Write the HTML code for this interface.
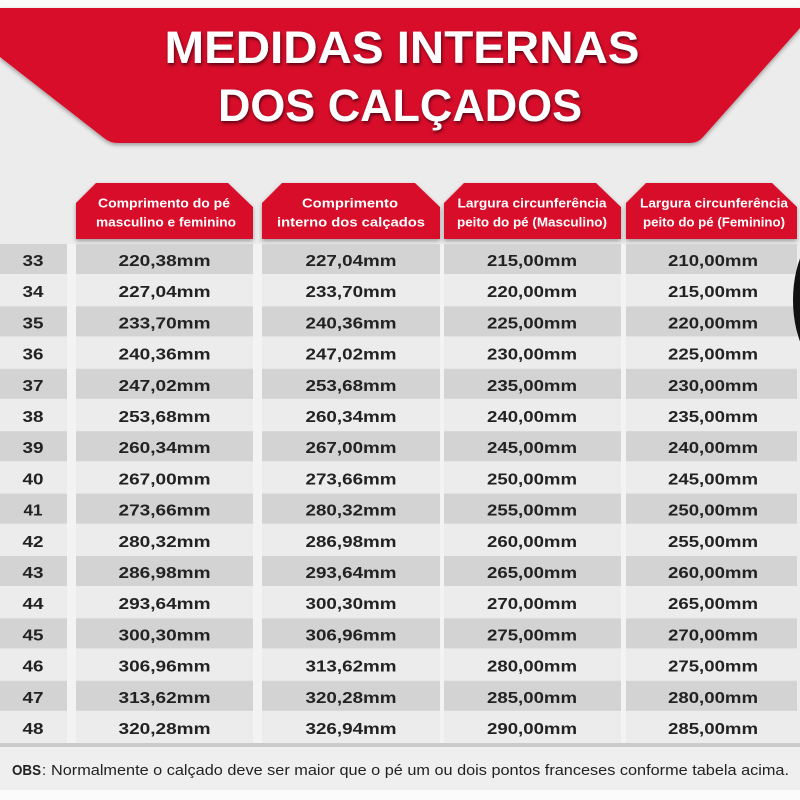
<!DOCTYPE html>
<html>
<head>
<meta charset="utf-8">
<style>
  html,body{margin:0;padding:0;background:#ececec;}
  svg{display:block;}
  .t{font-family:"Liberation Sans",sans-serif;}
  .title{font-weight:bold;font-size:45px;fill:#fff;}
  .hd{font-weight:bold;font-size:12.5px;fill:#fff;}
  .v{font-weight:bold;font-size:16px;fill:#222;}
</style>
</head>
<body>
<svg width="800" height="800" viewBox="0 0 800 800" xmlns="http://www.w3.org/2000/svg">
  <defs>
    <filter id="sh" x="-10%" y="-10%" width="120%" height="130%">
      <feDropShadow dx="0" dy="2" stdDeviation="2" flood-color="#000" flood-opacity="0.35"/>
    </filter>
    <filter id="tsh" x="-10%" y="-20%" width="120%" height="150%">
      <feDropShadow dx="1" dy="2" stdDeviation="1.5" flood-color="#3a0008" flood-opacity="0.8"/>
    </filter>
  </defs>
  <!-- background -->
  <rect x="0" y="0" width="800" height="800" fill="#ececec"/>
  <rect x="0" y="0" width="800" height="8" fill="#fafafa"/>
  <rect x="0" y="790" width="800" height="10" fill="#fbfbfb"/>

  <!-- banner -->
  <path d="M0,8 H800 V28 L703,137 Q698,143 690,143 H118 Q110,143 104,138 L0,57 Z" fill="#d8102b" filter="url(#sh)"/>
  <g filter="url(#tsh)">
    <text class="t title" x="402" y="63" text-anchor="middle" textLength="475" lengthAdjust="spacingAndGlyphs">MEDIDAS INTERNAS</text>
    <text class="t title" x="400" y="121" text-anchor="middle" textLength="364" lengthAdjust="spacingAndGlyphs">DOS CALÇADOS</text>
  </g>

  <!-- column gap stripes -->
  <g fill="#f3f3f3">
    <rect x="67" y="244" width="9" height="499"/>
    <rect x="253" y="244" width="9" height="499"/>
    <rect x="440" y="244" width="4" height="499"/>
    <rect x="621" y="244" width="5" height="499"/>
  </g>

  <!-- header tabs -->
  <g fill="#d8102b" filter="url(#sh)">
    <polygon points="76,239 76,203 96,183 228,183 253,207 253,239"/>
    <polygon points="262,239 262,203 282,183 415,183 440,207 440,239"/>
    <polygon points="444,239 444,203 464,183 596,183 621,207 621,239"/>
    <polygon points="626,239 626,203 646,183 772,183 797,207 797,239"/>
  </g>
  <g class="t hd" text-anchor="middle">
    <text class="hd" x="164" y="207.5" textLength="132" lengthAdjust="spacingAndGlyphs">Comprimento do pé</text>
    <text class="hd" x="166" y="226.5" textLength="140" lengthAdjust="spacingAndGlyphs">masculino e feminino</text>
    <text class="hd" x="350" y="207.5" textLength="96" lengthAdjust="spacingAndGlyphs">Comprimento</text>
    <text class="hd" x="351" y="226.5" textLength="148" lengthAdjust="spacingAndGlyphs">interno dos calçados</text>
    <text class="hd" x="532" y="207.5" textLength="149" lengthAdjust="spacingAndGlyphs">Largura circunferência</text>
    <text class="hd" x="532" y="226.5" textLength="150" lengthAdjust="spacingAndGlyphs">peito do pé (Masculino)</text>
    <text class="hd" x="714" y="207.5" textLength="148" lengthAdjust="spacingAndGlyphs">Largura circunferência</text>
    <text class="hd" x="714" y="226.5" textLength="142" lengthAdjust="spacingAndGlyphs">peito do pé (Feminino)</text>
  </g>

  <!-- gray row bars (odd sizes) -->
  <g fill="#d3d3d3">
    <rect x="0" y="244" width="67" height="30"/><rect x="76" y="244" width="177" height="30"/><rect x="262" y="244" width="178" height="30"/><rect x="444" y="244" width="177" height="30"/><rect x="626" y="244" width="171" height="30"/>
    <rect x="0" y="306.4" width="67" height="30"/><rect x="76" y="306.4" width="177" height="30"/><rect x="262" y="306.4" width="178" height="30"/><rect x="444" y="306.4" width="177" height="30"/><rect x="626" y="306.4" width="171" height="30"/>
    <rect x="0" y="368.8" width="67" height="30"/><rect x="76" y="368.8" width="177" height="30"/><rect x="262" y="368.8" width="178" height="30"/><rect x="444" y="368.8" width="177" height="30"/><rect x="626" y="368.8" width="171" height="30"/>
    <rect x="0" y="431.2" width="67" height="30"/><rect x="76" y="431.2" width="177" height="30"/><rect x="262" y="431.2" width="178" height="30"/><rect x="444" y="431.2" width="177" height="30"/><rect x="626" y="431.2" width="171" height="30"/>
    <rect x="0" y="493.6" width="67" height="30"/><rect x="76" y="493.6" width="177" height="30"/><rect x="262" y="493.6" width="178" height="30"/><rect x="444" y="493.6" width="177" height="30"/><rect x="626" y="493.6" width="171" height="30"/>
    <rect x="0" y="556" width="67" height="30"/><rect x="76" y="556" width="177" height="30"/><rect x="262" y="556" width="178" height="30"/><rect x="444" y="556" width="177" height="30"/><rect x="626" y="556" width="171" height="30"/>
    <rect x="0" y="618.4" width="67" height="30"/><rect x="76" y="618.4" width="177" height="30"/><rect x="262" y="618.4" width="178" height="30"/><rect x="444" y="618.4" width="177" height="30"/><rect x="626" y="618.4" width="171" height="30"/>
    <rect x="0" y="680.8" width="67" height="30"/><rect x="76" y="680.8" width="177" height="30"/><rect x="262" y="680.8" width="178" height="30"/><rect x="444" y="680.8" width="177" height="30"/><rect x="626" y="680.8" width="171" height="30"/>
  </g>

  <!-- separator -->
  <rect x="0" y="743" width="800" height="4" fill="#cbcbcb"/>
  <rect x="0" y="747" width="800" height="43" fill="#efefef"/>

  <!-- black shape at right -->
  <ellipse cx="835" cy="300" rx="42" ry="75" fill="#111"/>

  <!-- values -->
  <g class="t v" text-anchor="middle">
    <text class="v" x="33" y="266" textLength="21" lengthAdjust="spacingAndGlyphs">33</text>
    <text class="v" x="164.5" y="266" textLength="92" lengthAdjust="spacingAndGlyphs">220,38mm</text>
    <text class="v" x="351" y="266" textLength="91" lengthAdjust="spacingAndGlyphs">227,04mm</text>
    <text class="v" x="532" y="266" textLength="90" lengthAdjust="spacingAndGlyphs">215,00mm</text>
    <text class="v" x="713" y="266" textLength="90" lengthAdjust="spacingAndGlyphs">210,00mm</text>

    <text class="v" x="33" y="297.2" textLength="21" lengthAdjust="spacingAndGlyphs">34</text>
    <text class="v" x="164.5" y="297.2" textLength="92" lengthAdjust="spacingAndGlyphs">227,04mm</text>
    <text class="v" x="351" y="297.2" textLength="91" lengthAdjust="spacingAndGlyphs">233,70mm</text>
    <text class="v" x="532" y="297.2" textLength="90" lengthAdjust="spacingAndGlyphs">220,00mm</text>
    <text class="v" x="713" y="297.2" textLength="90" lengthAdjust="spacingAndGlyphs">215,00mm</text>

    <text class="v" x="33" y="328.4" textLength="21" lengthAdjust="spacingAndGlyphs">35</text>
    <text class="v" x="164.5" y="328.4" textLength="92" lengthAdjust="spacingAndGlyphs">233,70mm</text>
    <text class="v" x="351" y="328.4" textLength="91" lengthAdjust="spacingAndGlyphs">240,36mm</text>
    <text class="v" x="532" y="328.4" textLength="90" lengthAdjust="spacingAndGlyphs">225,00mm</text>
    <text class="v" x="713" y="328.4" textLength="90" lengthAdjust="spacingAndGlyphs">220,00mm</text>

    <text class="v" x="33" y="359.6" textLength="21" lengthAdjust="spacingAndGlyphs">36</text>
    <text class="v" x="164.5" y="359.6" textLength="92" lengthAdjust="spacingAndGlyphs">240,36mm</text>
    <text class="v" x="351" y="359.6" textLength="91" lengthAdjust="spacingAndGlyphs">247,02mm</text>
    <text class="v" x="532" y="359.6" textLength="90" lengthAdjust="spacingAndGlyphs">230,00mm</text>
    <text class="v" x="713" y="359.6" textLength="90" lengthAdjust="spacingAndGlyphs">225,00mm</text>

    <text class="v" x="33" y="390.8" textLength="21" lengthAdjust="spacingAndGlyphs">37</text>
    <text class="v" x="164.5" y="390.8" textLength="92" lengthAdjust="spacingAndGlyphs">247,02mm</text>
    <text class="v" x="351" y="390.8" textLength="91" lengthAdjust="spacingAndGlyphs">253,68mm</text>
    <text class="v" x="532" y="390.8" textLength="90" lengthAdjust="spacingAndGlyphs">235,00mm</text>
    <text class="v" x="713" y="390.8" textLength="90" lengthAdjust="spacingAndGlyphs">230,00mm</text>

    <text class="v" x="33" y="422" textLength="21" lengthAdjust="spacingAndGlyphs">38</text>
    <text class="v" x="164.5" y="422" textLength="92" lengthAdjust="spacingAndGlyphs">253,68mm</text>
    <text class="v" x="351" y="422" textLength="91" lengthAdjust="spacingAndGlyphs">260,34mm</text>
    <text class="v" x="532" y="422" textLength="90" lengthAdjust="spacingAndGlyphs">240,00mm</text>
    <text class="v" x="713" y="422" textLength="90" lengthAdjust="spacingAndGlyphs">235,00mm</text>

    <text class="v" x="33" y="453.2" textLength="21" lengthAdjust="spacingAndGlyphs">39</text>
    <text class="v" x="164.5" y="453.2" textLength="92" lengthAdjust="spacingAndGlyphs">260,34mm</text>
    <text class="v" x="351" y="453.2" textLength="91" lengthAdjust="spacingAndGlyphs">267,00mm</text>
    <text class="v" x="532" y="453.2" textLength="90" lengthAdjust="spacingAndGlyphs">245,00mm</text>
    <text class="v" x="713" y="453.2" textLength="90" lengthAdjust="spacingAndGlyphs">240,00mm</text>

    <text class="v" x="33" y="484.4" textLength="21" lengthAdjust="spacingAndGlyphs">40</text>
    <text class="v" x="164.5" y="484.4" textLength="92" lengthAdjust="spacingAndGlyphs">267,00mm</text>
    <text class="v" x="351" y="484.4" textLength="91" lengthAdjust="spacingAndGlyphs">273,66mm</text>
    <text class="v" x="532" y="484.4" textLength="90" lengthAdjust="spacingAndGlyphs">250,00mm</text>
    <text class="v" x="713" y="484.4" textLength="90" lengthAdjust="spacingAndGlyphs">245,00mm</text>

    <text class="v" x="33" y="515.6" textLength="19" lengthAdjust="spacingAndGlyphs">41</text>
    <text class="v" x="164.5" y="515.6" textLength="92" lengthAdjust="spacingAndGlyphs">273,66mm</text>
    <text class="v" x="351" y="515.6" textLength="91" lengthAdjust="spacingAndGlyphs">280,32mm</text>
    <text class="v" x="532" y="515.6" textLength="90" lengthAdjust="spacingAndGlyphs">255,00mm</text>
    <text class="v" x="713" y="515.6" textLength="90" lengthAdjust="spacingAndGlyphs">250,00mm</text>

    <text class="v" x="33" y="546.8" textLength="21" lengthAdjust="spacingAndGlyphs">42</text>
    <text class="v" x="164.5" y="546.8" textLength="92" lengthAdjust="spacingAndGlyphs">280,32mm</text>
    <text class="v" x="351" y="546.8" textLength="91" lengthAdjust="spacingAndGlyphs">286,98mm</text>
    <text class="v" x="532" y="546.8" textLength="90" lengthAdjust="spacingAndGlyphs">260,00mm</text>
    <text class="v" x="713" y="546.8" textLength="90" lengthAdjust="spacingAndGlyphs">255,00mm</text>

    <text class="v" x="33" y="578" textLength="21" lengthAdjust="spacingAndGlyphs">43</text>
    <text class="v" x="164.5" y="578" textLength="92" lengthAdjust="spacingAndGlyphs">286,98mm</text>
    <text class="v" x="351" y="578" textLength="91" lengthAdjust="spacingAndGlyphs">293,64mm</text>
    <text class="v" x="532" y="578" textLength="90" lengthAdjust="spacingAndGlyphs">265,00mm</text>
    <text class="v" x="713" y="578" textLength="90" lengthAdjust="spacingAndGlyphs">260,00mm</text>

    <text class="v" x="33" y="609.2" textLength="21" lengthAdjust="spacingAndGlyphs">44</text>
    <text class="v" x="164.5" y="609.2" textLength="92" lengthAdjust="spacingAndGlyphs">293,64mm</text>
    <text class="v" x="351" y="609.2" textLength="91" lengthAdjust="spacingAndGlyphs">300,30mm</text>
    <text class="v" x="532" y="609.2" textLength="90" lengthAdjust="spacingAndGlyphs">270,00mm</text>
    <text class="v" x="713" y="609.2" textLength="90" lengthAdjust="spacingAndGlyphs">265,00mm</text>

    <text class="v" x="33" y="640.4" textLength="21" lengthAdjust="spacingAndGlyphs">45</text>
    <text class="v" x="164.5" y="640.4" textLength="92" lengthAdjust="spacingAndGlyphs">300,30mm</text>
    <text class="v" x="351" y="640.4" textLength="91" lengthAdjust="spacingAndGlyphs">306,96mm</text>
    <text class="v" x="532" y="640.4" textLength="90" lengthAdjust="spacingAndGlyphs">275,00mm</text>
    <text class="v" x="713" y="640.4" textLength="90" lengthAdjust="spacingAndGlyphs">270,00mm</text>

    <text class="v" x="33" y="671.6" textLength="21" lengthAdjust="spacingAndGlyphs">46</text>
    <text class="v" x="164.5" y="671.6" textLength="92" lengthAdjust="spacingAndGlyphs">306,96mm</text>
    <text class="v" x="351" y="671.6" textLength="91" lengthAdjust="spacingAndGlyphs">313,62mm</text>
    <text class="v" x="532" y="671.6" textLength="90" lengthAdjust="spacingAndGlyphs">280,00mm</text>
    <text class="v" x="713" y="671.6" textLength="90" lengthAdjust="spacingAndGlyphs">275,00mm</text>

    <text class="v" x="33" y="702.8" textLength="21" lengthAdjust="spacingAndGlyphs">47</text>
    <text class="v" x="164.5" y="702.8" textLength="92" lengthAdjust="spacingAndGlyphs">313,62mm</text>
    <text class="v" x="351" y="702.8" textLength="91" lengthAdjust="spacingAndGlyphs">320,28mm</text>
    <text class="v" x="532" y="702.8" textLength="90" lengthAdjust="spacingAndGlyphs">285,00mm</text>
    <text class="v" x="713" y="702.8" textLength="90" lengthAdjust="spacingAndGlyphs">280,00mm</text>

    <text class="v" x="33" y="734" textLength="21" lengthAdjust="spacingAndGlyphs">48</text>
    <text class="v" x="164.5" y="734" textLength="92" lengthAdjust="spacingAndGlyphs">320,28mm</text>
    <text class="v" x="351" y="734" textLength="91" lengthAdjust="spacingAndGlyphs">326,94mm</text>
    <text class="v" x="532" y="734" textLength="90" lengthAdjust="spacingAndGlyphs">290,00mm</text>
    <text class="v" x="713" y="734" textLength="90" lengthAdjust="spacingAndGlyphs">285,00mm</text>
  </g>

  <!-- OBS -->
  <text class="t" x="12" y="775" font-size="15" font-weight="bold" fill="#222" textLength="29" lengthAdjust="spacingAndGlyphs">OBS</text>
  <text class="t" x="42" y="775" font-size="15" fill="#222">:</text>
  <text class="t" x="51" y="775" font-size="15" fill="#222" textLength="738" lengthAdjust="spacingAndGlyphs">Normalmente o calçado deve ser maior que o pé um ou dois pontos franceses conforme tabela acima.</text>
</svg>
</body>
</html>
